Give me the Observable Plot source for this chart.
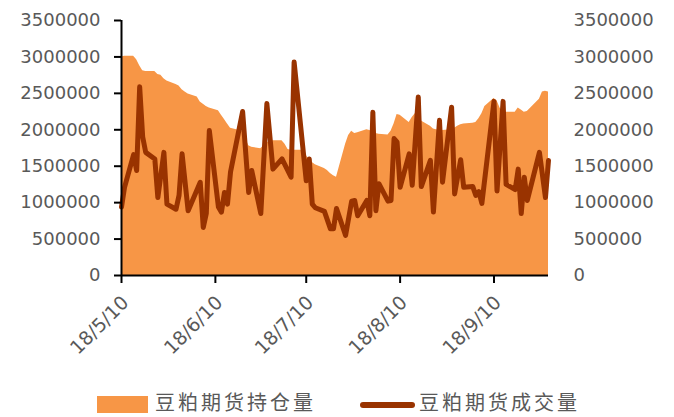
<!DOCTYPE html>
<html>
<head>
<meta charset="utf-8">
<script src="https://cdn.jsdelivr.net/npm/d3@7"></script>
<script src="https://cdn.jsdelivr.net/npm/@observablehq/plot@0.6"></script>
<style>
  html, body { margin: 0; padding: 0; background: #fff; }
  #wrap { position: relative; width: 674px; height: 417px; overflow: hidden; }
  #chart svg { display: block; }
  .lg { position: absolute; font-family: "Noto Sans CJK SC", sans-serif; font-size: 20px; line-height: 20px; color: #595959; letter-spacing: 3px; white-space: nowrap; }
  .sw-area { position: absolute; left: 97px; top: 396px; width: 51px; height: 17px; background: #F79646; }
  .sw-line { position: absolute; left: 360px; top: 402px; width: 55px; height: 6px; border-radius: 3px; background: #993300; }
</style>
</head>
<body>
<div id="wrap">
  <div id="chart"></div>
  <div class="sw-area"></div>
  <div class="lg" id="lg1" style="left:155px; top:392px;"></div>
  <div class="sw-line"></div>
  <div class="lg" id="lg2" style="left:419px; top:392px;"></div>
</div>
<script>
// ---- data ----
const seriesNames = ["豆粕期货持仓量", "豆粕期货成交量"];

// open interest (area)
const oiDates = ["2018-05-10","2018-05-11","2018-05-14","2018-05-15","2018-05-16","2018-05-17","2018-05-18","2018-05-21","2018-05-22","2018-05-23","2018-05-24","2018-05-25","2018-05-28","2018-05-29","2018-05-30","2018-05-31","2018-06-01","2018-06-04","2018-06-05","2018-06-06","2018-06-07","2018-06-08","2018-06-11","2018-06-12","2018-06-13","2018-06-14","2018-06-15","2018-06-19","2018-06-20","2018-06-21","2018-06-22","2018-06-25","2018-06-26","2018-06-27","2018-06-28","2018-06-29","2018-07-02","2018-07-03","2018-07-04","2018-07-05","2018-07-06","2018-07-09","2018-07-10","2018-07-11","2018-07-12","2018-07-13","2018-07-16","2018-07-17","2018-07-18","2018-07-19","2018-07-20","2018-07-23","2018-07-24","2018-07-25","2018-07-26","2018-07-27","2018-07-30","2018-07-31","2018-08-01","2018-08-02","2018-08-03","2018-08-06","2018-08-07","2018-08-08","2018-08-09","2018-08-10","2018-08-13","2018-08-14","2018-08-15","2018-08-16","2018-08-17","2018-08-20","2018-08-21","2018-08-22","2018-08-23","2018-08-24","2018-08-27","2018-08-28","2018-08-29","2018-08-30","2018-08-31","2018-09-03","2018-09-04","2018-09-05","2018-09-06","2018-09-07","2018-09-10","2018-09-11","2018-09-12","2018-09-13","2018-09-14","2018-09-17","2018-09-18","2018-09-19","2018-09-20","2018-09-21","2018-09-25","2018-09-26","2018-09-27","2018-09-28"];
const oiValues = [3000000,3010000,3010000,2960000,2880000,2810000,2800000,2800000,2760000,2750000,2700000,2670000,2620000,2600000,2550000,2520000,2490000,2450000,2380000,2350000,2320000,2300000,2260000,2200000,2140000,2080000,2020000,1980000,1880000,1780000,1760000,1740000,1780000,1820000,1850000,1850000,1850000,1800000,1730000,1720000,1720000,1720000,1650000,1580000,1550000,1520000,1470000,1440000,1400000,1370000,1350000,1800000,1920000,1980000,1950000,1960000,2000000,1990000,1970000,1950000,1940000,1930000,1980000,2080000,2210000,2200000,2100000,2170000,2220000,2240000,2120000,2050000,2010000,2000000,1990000,1990000,2000000,2020000,2050000,2070000,2080000,2090000,2100000,2150000,2220000,2320000,2430000,2400000,2300000,2240000,2240000,2240000,2300000,2270000,2240000,2250000,2420000,2520000,2530000,2520000];

// trading volume (line)
const volDates = ["2018-05-10","2018-05-11","2018-05-14","2018-05-15","2018-05-16","2018-05-17","2018-05-18","2018-05-21","2018-05-22","2018-05-24","2018-05-25","2018-05-28","2018-05-29","2018-05-30","2018-06-01","2018-06-05","2018-06-06","2018-06-07","2018-06-08","2018-06-11","2018-06-12","2018-06-13","2018-06-14","2018-06-15","2018-06-19","2018-06-21","2018-06-22","2018-06-25","2018-06-27","2018-06-29","2018-07-02","2018-07-05","2018-07-06","2018-07-10","2018-07-11","2018-07-12","2018-07-13","2018-07-16","2018-07-18","2018-07-19","2018-07-20","2018-07-23","2018-07-25","2018-07-26","2018-07-27","2018-07-30","2018-07-31","2018-08-01","2018-08-02","2018-08-03","2018-08-06","2018-08-07","2018-08-08","2018-08-09","2018-08-10","2018-08-13","2018-08-14","2018-08-16","2018-08-17","2018-08-20","2018-08-21","2018-08-23","2018-08-24","2018-08-27","2018-08-28","2018-08-30","2018-08-31","2018-09-03","2018-09-04","2018-09-05","2018-09-06","2018-09-10","2018-09-11","2018-09-13","2018-09-14","2018-09-17","2018-09-18","2018-09-19","2018-09-20","2018-09-21","2018-09-25","2018-09-27","2018-09-28"];
const volValues = [940000,1210000,1660000,1440000,2590000,1900000,1690000,1600000,1070000,1690000,980000,910000,1100000,1670000,890000,1280000,660000,850000,1990000,940000,870000,1140000,980000,1420000,2250000,1140000,1440000,850000,2360000,1460000,1600000,1350000,2930000,1300000,1600000,980000,930000,880000,640000,640000,920000,550000,1020000,1030000,820000,1030000,820000,2240000,890000,1260000,1020000,1030000,1880000,1830000,1210000,1670000,1240000,2450000,1220000,1580000,870000,2130000,1280000,2310000,1120000,1590000,1210000,1220000,1100000,1150000,990000,2390000,1160000,2390000,1250000,1180000,1460000,850000,1350000,1030000,1690000,1070000,1580000];

// axis ticks
const yTicks = [0, 500000, 1000000, 1500000, 2000000, 2500000, 3000000, 3500000];
const xTickDates = ["2018-05-10","2018-06-10","2018-07-10","2018-08-10","2018-09-10"];
const xTickLabels = ["18/5/10","18/6/10","18/7/10","18/8/10","18/9/10"];

// ---- build ----
const parse = d3.utcParse("%Y-%m-%d");
const oi = oiDates.map((d, i) => ({date: parse(d), value: oiValues[i]}));
const vol = volDates.map((d, i) => ({date: parse(d), value: volValues[i]}));
const xTicks = xTickDates.map(parse);
const labelOf = new Map(xTicks.map((d, i) => [+d, xTickLabels[i]]));

document.getElementById("lg1").textContent = seriesNames[0];
document.getElementById("lg2").textContent = seriesNames[1];

const chart = Plot.plot({
  width: 674,
  height: 392,
  marginLeft: 121,
  marginRight: 126,
  marginTop: 20,
  marginBottom: 117,
  style: {fontFamily: "DejaVu Sans", fontSize: "18px", color: "#595959", background: "#fff", overflow: "visible"},
  x: {type: "utc", domain: [oi[0].date, oi[oi.length - 1].date]},
  y: {domain: [0, 3500000]},
  marks: [
    Plot.areaY(oi, {x: "date", y: "value", fill: "#F79646"}),
    Plot.lineY(vol, {x: "date", y: "value", stroke: "#993300", strokeWidth: 5, strokeLinejoin: "round", strokeLinecap: "round"}),
    Plot.ruleX([oi[0].date], {stroke: "#000", strokeWidth: 2}),
    Plot.ruleY([0], {stroke: "#000", strokeWidth: 2}),
    Plot.axisY({anchor: "left", ticks: yTicks, tickFormat: d => String(d), tickSize: 7, tickPadding: 14, stroke: "#000", strokeWidth: 2, fill: "#595959", label: null, style: {letterSpacing: "0.7px"}}),
    Plot.axisY({anchor: "right", ticks: yTicks, tickFormat: d => String(d), tickSize: 0, tickPadding: 25, fill: "#595959", label: null, style: {letterSpacing: "0.7px"}}),
    // tick marks only
    Plot.axisX({ticks: xTicks, tickFormat: () => "", tickSize: 8, stroke: "#000", strokeWidth: 2, label: null}),
    // rotated tick labels only
    Plot.axisX({ticks: xTicks, tickFormat: d => labelOf.get(+d), tickRotate: -45, tickSize: 0, tickPadding: 24, dx: 4, fill: "#595959", fontSize: 19, label: null, style: {letterSpacing: "1.5px"}})
  ]
});
document.getElementById("chart").appendChild(chart);
</script>
</body>
</html>
